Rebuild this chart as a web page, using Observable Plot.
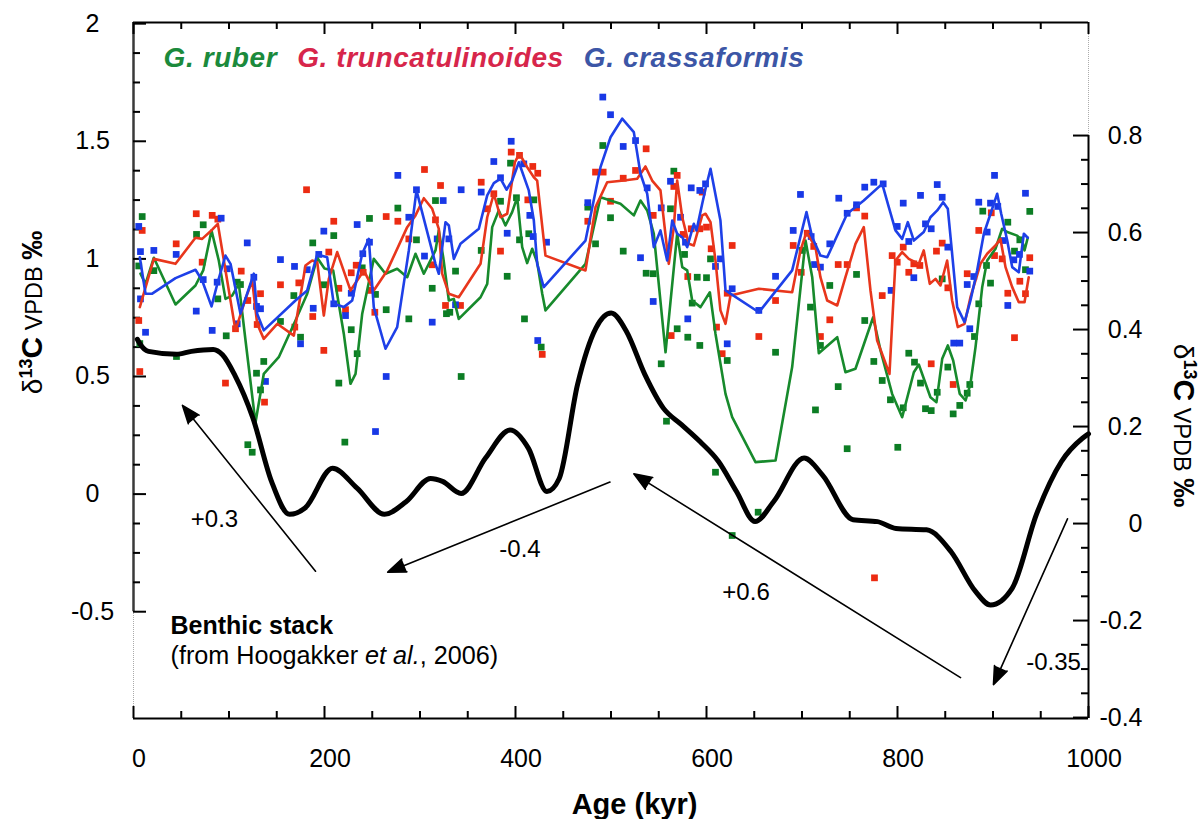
<!DOCTYPE html>
<html><head><meta charset="utf-8">
<script src="https://cdn.jsdelivr.net/npm/d3@7"></script>
<script src="https://cdn.jsdelivr.net/npm/@observablehq/plot@0.6"></script>
<style>body{margin:0;background:#fff;}</style>
</head><body><div id="chart"></div>
<script>
// ---- data: [age kyr, δ13C ‰] ----
const ruberPoints = [[9.1,1.18],[5.5,0.97],[21.3,0.95],[6.6,0.64],[45,0.585],[66,1.104],[73,1.145],[88.3,0.83],[97.1,0.673],[108.6,0.901],[112,0.891],[136.4,0.564],[128.8,0.514],[133,0.443],[119.7,0.21],[124.3,0.178],[187.7,1.068],[199.3,0.89],[167.9,0.844],[153.9,0.734],[174.9,0.667],[209.7,1.099],[228,0.699],[215,0.472],[234.2,0.597],[247.1,1.172],[239.5,0.962],[253.4,0.849],[264.6,0.784],[221.3,0.221],[276.8,1.216],[288.3,0.745],[296.3,1.081],[316.2,1.248],[312.8,0.875],[327.7,0.767],[331.2,0.773],[337.2,0.948],[343.1,0.5],[364.1,1.036],[394.8,1.407],[384.3,1.245],[401,1.26],[391.3,0.926],[404.2,1.081],[419.2,1.251],[413.9,1.107],[409.4,0.745],[426.9,0.625],[491.4,1.482],[475.7,1.22],[499.5,1.175],[483.8,1.064],[512.8,1.033],[536.8,0.939],[544.2,0.937],[565.8,1.373],[562.3,1.213],[577,1.019],[590.3,0.922],[585,0.812],[569.3,0.703],[580.4,0.667],[552.6,0.554],[593,0.632],[558.1,0.31],[604.2,1.0],[600,0.92],[621.7,0.568],[672.3,0.603],[700.2,1.036],[708.9,0.795],[719.3,0.632],[714.1,0.358],[729.1,0.887],[757.1,0.934],[737.9,0.457],[747.3,0.193],[765.7,0.738],[775.2,0.564],[784,0.483],[792.6,0.401],[609.4,0.093],[654.1,-0.077],[626.9,-0.176],[800.3,0.199],[806,0.367],[811.8,0.599],[817.8,0.561],[824.1,0.472],[829.3,0.363],[835.3,0.355],[841.6,0.433],[852.7,0.54],[846.8,0.915],[858.3,0.341],[865.2,0.377],[873,0.429],[875.7,0.466],[880.6,0.67],[885.1,0.809],[889.3,1.203],[893.2,0.972],[897.4,0.897],[915.5,1.156],[922.5,1.033],[928.1,1.081],[934,0.954],[938.5,1.202]];
const truncPoints = [[9.1,1.121],[5.5,0.738],[6.6,0.521],[44.7,1.064],[65.7,1.192],[82.4,1.185],[88.3,1.169],[71.9,0.986],[96.3,0.472],[112.8,0.948],[119.7,0.823],[133,0.852],[106.8,0.703],[129.5,0.721],[137.2,0.391],[181.2,1.294],[153.9,0.89],[204.5,1.029],[173.1,0.898],[187.7,0.755],[168.9,0.71],[199.3,0.611],[209.7,1.16],[215,0.875],[222,0.784],[233.2,0.973],[228,0.941],[240.5,0.943],[248.2,0.866],[252.7,0.773],[264.6,1.18],[276.8,1.16],[304.7,1.38],[288.3,1.085],[321.5,1.312],[316.2,1.166],[312.8,0.975],[326.7,0.802],[342.4,0.802],[364.1,1.326],[395.5,1.454],[404.2,1.44],[377.3,1.277],[370.4,1.213],[384.3,1.033],[418.1,1.393],[423.3,1.364],[412.9,1.251],[428,0.594],[483.8,1.369],[491.8,1.369],[512.8,1.343],[525.7,1.376],[536.8,1.468],[475.7,1.16],[499.5,1.245],[544.2,1.185],[569.3,1.355],[565.8,1.308],[575.6,1.104],[584,1.128],[593,1.128],[580.4,0.925],[563,0.674],[595.5,1.284],[600,1.135],[604.9,1.043],[626.9,1.057],[621.7,0.854],[610.5,0.71],[616.4,0.597],[654.8,0.67],[672.3,0.823],[690.8,1.057],[705.5,1.109],[699.2,0.943],[712.3,1.053],[719.3,0.67],[729.1,0.741],[737.9,0.976],[747.3,0.976],[757.1,1.217],[765.7,1.182],[784,0.844],[775.9,-0.356],[794.4,1.014],[799.7,0.986],[806,1.05],[817.1,0.979],[823.4,0.972],[811.8,0.943],[840.8,1.033],[846.8,1.067],[852.7,0.877],[835.3,0.554],[858.3,0.466],[873,0.937],[885.1,1.121],[898.2,1.196],[901.6,1.014],[909.6,1.0],[915.5,0.854],[928.1,0.905],[922.5,0.665],[934,0.852],[938.5,1.005]];
const crassPoints = [[5.5,1.138],[7.3,1.031],[21.3,1.036],[7.3,0.83],[12.6,0.688],[44.7,1.019],[91.8,1.173],[73,0.912],[65.7,0.778],[82.4,0.696],[87.6,0.901],[98.1,0.958],[119.1,1.068],[126,0.922],[128.8,0.798],[133,0.788],[108.6,0.724],[138.2,0.479],[199.3,1.118],[153.9,0.997],[168.6,0.968],[194,1.019],[181.9,0.954],[188.2,0.79],[174.9,0.639],[209.7,0.809],[222,0.759],[234.2,1.146],[240.1,1.022],[247.1,1.071],[228,0.854],[264.6,0.5],[253.4,0.266],[276.8,1.355],[296.3,1.294],[288.3,1.177],[324.3,1.248],[318,1.085],[330.2,1.085],[304.7,1.012],[312.8,0.731],[337.2,0.805],[343.1,1.294],[364.1,1.284],[377.3,1.414],[395.5,1.5],[384.3,1.345],[391.3,1.109],[408.7,1.404],[415,1.185],[418.5,1.095],[432.5,1.071],[423.3,0.653],[491.4,1.688],[499.5,1.613],[512.8,1.478],[525.7,1.503],[475.7,1.239],[530.9,1.005],[537.9,1.302],[544.2,0.819],[562.3,1.33],[584,1.302],[593,1.291],[552.6,1.217],[572.8,1.177],[578,1.071],[580.4,0.745],[599,1.319],[609.4,0.968],[614.6,1.0],[626.9,0.873],[621.7,0.639],[654.8,0.781],[672.3,0.926],[698.4,1.274],[690.8,1.121],[709.6,1.095],[713.1,0.976],[719.3,0.965],[729.1,1.064],[738.5,1.258],[747.3,1.194],[757.1,1.23],[765.7,1.305],[775.2,1.326],[785,1.319],[793.3,0.866],[806,1.237],[824.1,1.27],[841.6,1.316],[846.8,1.262],[835.3,1.128],[829.3,1.149],[799.7,1.138],[811.8,1.074],[817.1,0.92],[852.7,1.05],[858.9,0.642],[865.2,0.642],[875.7,0.703],[873,0.891],[879.9,0.925],[885.1,1.241],[893.9,1.114],[897.4,1.237],[901.6,1.355],[905,1.223],[910.7,1.078],[921.8,0.996],[927.7,1.019],[915.5,0.802],[934,1.279],[938.5,0.948]];

const ruberLine = [[7.3,0.937],[12.6,0.894],[21.3,1.005],[44,0.806],[64.9,0.887],[73,0.951],[81.7,1.121],[89.3,0.993],[96.3,0.83],[103.3,0.844],[110.3,0.894],[117.3,0.653],[127.7,0.303],[136.4,0.511],[152.1,0.582],[169.6,0.738],[181.9,0.852],[192.4,1.005],[200,0.959],[209.1,0.951],[220.2,0.682],[227.2,0.469],[232.5,0.511],[239.5,0.767],[251.6,1.0],[263.9,0.937],[276.1,0.958],[286.6,0.922],[295.3,1.022],[304,0.937],[316.2,1.036],[319.7,1.121],[324.3,1.007],[330.2,0.823],[335.4,0.83],[340.6,0.745],[363.4,0.837],[370.4,0.894],[375.6,1.135],[382.5,1.206],[389.5,1.142],[396.5,1.199],[401.8,1.262],[407,1.05],[412.2,0.982],[417.5,1.043],[422.7,0.986],[428,0.852],[431.4,0.781],[473.3,0.979],[489,1.262],[509.9,1.234],[523.9,1.185],[530.9,1.248],[537.9,1.206],[544.8,1.107],[557.1,0.603],[569.3,1.107],[574.6,0.965],[579.8,0.951],[585,0.823],[593.7,0.795],[603.5,0.858],[609.4,0.682],[619.9,0.426],[626.9,0.327],[651.3,0.136],[672.3,0.143],[689.7,0.54],[703.7,1.078],[710.7,0.922],[717.6,0.599],[736.9,0.667],[745.5,0.518],[756,0.533],[774.5,0.752],[782.2,0.611],[794.4,0.426],[804.9,0.327],[817.1,0.518],[822.3,0.551],[834.5,0.412],[840.8,0.391],[846.8,0.575],[852.7,0.632],[858.3,0.568],[865.2,0.426],[871.3,0.398],[876.4,0.469],[881.7,0.625],[888.7,0.88],[893.9,0.993],[902.6,1.043],[909.6,1.128],[914.9,1.114],[925.3,1.099],[930.6,1.078],[933,1.036],[936.4,1.09]];
const truncLine = [[6.6,0.795],[21.3,1.0],[44,0.979],[64.9,1.09],[71.9,1.085],[82.4,1.124],[88.3,1.149],[98.1,0.908],[106.8,0.696],[117.3,0.83],[124.3,0.908],[129.5,0.724],[136.4,0.66],[150.5,0.724],[167.9,0.674],[180.1,0.972],[187.1,0.993],[192.4,0.986],[199.3,0.759],[204.5,0.915],[213.3,1.029],[227.2,0.866],[241.2,0.951],[251.6,0.866],[265.7,0.951],[286.6,1.135],[295.3,1.185],[304,1.258],[312.8,1.213],[319.7,1.128],[323.2,0.937],[330.2,0.852],[340.6,0.837],[363.4,0.979],[370.4,1.177],[377.3,1.277],[384.3,1.177],[391.3,1.192],[399.3,1.411],[404.2,1.447],[412.2,1.39],[419.2,1.347],[422.7,1.333],[431.4,1.014],[473.3,0.951],[483.8,1.22],[496,1.326],[513.4,1.333],[527.4,1.341],[536.1,1.393],[543.1,1.333],[551.8,1.291],[560.5,0.979],[565.8,1.135],[569.3,1.333],[574.6,1.177],[581.5,1.064],[586.7,1.057],[595.5,1.185],[599,1.192],[604.2,1.156],[609.4,0.993],[614.6,0.781],[619.9,0.724],[625.1,0.844],[654.8,0.873],[689.7,0.858],[698.4,1.036],[704.7,1.114],[714.1,1.05],[719.3,0.922],[726.4,0.823],[736.9,0.802],[745.5,0.922],[756,1.064],[764.7,1.135],[771.7,0.866],[778.7,0.653],[791.6,0.511],[797.9,0.993],[804.9,1.029],[811.8,1.0],[822.3,0.979],[827.5,1.036],[833.8,0.894],[839.8,0.915],[845,0.887],[852,0.993],[857.2,0.823],[863.1,0.71],[870.2,0.724],[876.4,0.837],[886.9,0.979],[893.9,1.022],[902.6,1.057],[907.8,1.085],[913.1,0.965],[920.1,0.88],[927,0.816],[933,0.816],[937.4,0.922]];
const crassLine = [[6.6,1.007],[12.6,0.852],[19.6,0.852],[44,0.918],[64.9,0.954],[71.9,0.908],[81.7,0.798],[88.7,0.908],[96.3,1.014],[101.6,0.979],[112,0.767],[126,0.937],[129.5,0.767],[136.4,0.696],[169.6,0.823],[181.9,0.866],[192.4,1.019],[202.8,1.007],[209.7,0.809],[220.2,0.795],[229,0.823],[239.5,1.022],[246.4,1.085],[251.6,0.795],[263.9,0.618],[276.1,0.71],[288.3,1.036],[296.3,1.291],[316.2,0.979],[319.7,0.937],[326.7,1.156],[330.2,1.142],[335.4,1.0],[342.4,1.064],[361.6,1.128],[370.4,1.27],[377.3,1.322],[384.3,1.341],[390.6,1.294],[396.5,1.333],[403.5,1.411],[413.9,1.291],[419.2,1.163],[422.7,0.979],[429.6,0.88],[473.3,1.078],[489,1.39],[499.5,1.517],[511.7,1.596],[523.9,1.539],[530.9,1.362],[537.9,1.277],[544.8,1.05],[551.8,1.121],[558.8,0.993],[564.1,1.163],[569.3,1.107],[574.6,1.092],[579.8,1.05],[586.7,1.149],[589.5,1.121],[595.5,1.234],[599,1.298],[604.2,1.383],[614.6,1.163],[619.9,0.866],[654.8,0.773],[689.7,0.951],[704.7,1.199],[710.7,1.092],[719.3,1.014],[726.4,1.007],[747.3,1.192],[764.7,1.248],[784,1.319],[790.9,1.22],[797.9,1.121],[804.9,1.085],[810.8,1.156],[817.1,1.078],[827.5,1.114],[834.5,1.177],[841.6,1.206],[847.8,1.241],[852.7,1.213],[857.2,1.022],[862.5,0.795],[870.2,0.731],[876.4,0.823],[883.4,0.951],[890.4,1.107],[897.4,1.192],[904.4,1.277],[908.6,1.192],[914.9,1.078],[920.1,0.965],[927,0.943],[932.3,1.107],[936.4,1.09]];

// benthic stack, right-axis units
const benthicStack = [[4,0.38],[6.3,0.372],[15.7,0.355],[45,0.349],[60.7,0.355],[83.5,0.359],[93.2,0.348],[105.8,0.307],[125.1,0.217],[144.5,0.087],[163.4,0.019],[179.6,0.032],[208.4,0.114],[234.1,0.073],[262.8,0.019],[285.4,0.045],[311,0.093],[323.6,0.087],[343.1,0.062],[368.6,0.135],[394.4,0.193],[413.6,0.155],[432.9,0.066],[445.8,0.093],[465,0.287],[484.2,0.403],[500.2,0.434],[516.2,0.396],[535.5,0.307],[554.8,0.238],[573.8,0.204],[593.2,0.169],[612.6,0.128],[631.4,0.066],[650.9,0.004],[670.2,0.045],[702.2,0.135],[721.5,0.100],[753.5,0.008],[779,0.004],[798.4,-0.010],[830.4,-0.013],[856.1,-0.058],[881.7,-0.140],[897.4,-0.168],[920.2,-0.133],[945.5,0.019],[971.7,0.128],[993.7,0.176],[1000,0.185]];

const xTickLabels = [0,200,400,600,800,1000];
const xTicks = d3.range(0, 1001, 50);
const yLeftLabels = [-0.5,0,0.5,1,1.5,2];
const yLeftTicks = d3.range(0, 21).map(i => -0.5 + i*0.125);
const yRightLabels = [-0.4,-0.2,0,0.2,0.4,0.6,0.8];
const yRightTicks = d3.range(0, 25).map(i => -0.4 + i*0.05);

const arrowNotes = [
  {x1:190.6, y1:-0.328, x2:51.3, y2:0.377},
  {x1:498.9, y1:0.051, x2:266.2, y2:-0.332},
  {x1:866, y1:-0.780, x2:523.9, y2:0.086},
  {x1:978, y1:-0.105, x2:900.5, y2:-0.810}
];
const changeLabels = [
  {x:84.8, y:-0.108, text:"+0.3"},
  {x:404.7, y:-0.236, text:"-0.4"},
  {x:641.4, y:-0.418, text:"+0.6"},
  {x:963.4, y:-0.716, text:"-0.35"}
];

const LEFT_TITLE = "δ13C VPDB ‰";
const RIGHT_TITLE = "δ13C VPDB ‰ ";
const LEGEND = "G. ruber G. truncatulinoides G. crassaformis";
const SOURCE = "(from Hoogakker et al., 2006)";

// ---- scales ----
const yBottom = -0.954, yTop = 2.005;
const toLeft = r => -0.95 + (r + 0.4) * 2.062;
const pxY = (yTop - yBottom) / 696;
const pxX = 1000 / 955;
const isMul = (v, s) => Math.abs(v / s - Math.round(v / s)) < 1e-6;

const GREEN = "#0c7d24", RED = "#ec2b12", BLUE = "#1838e6";
const GREEN_L = "#178a2c", RED_L = "#e8361c", BLUE_L = "#1e40e8";

const xy = {x: d => d[0], y: d => d[1]};

const svg = Plot.plot({
  width: 1203, height: 819,
  marginLeft: 133, marginRight: 115, marginTop: 22, marginBottom: 101,
  x: {domain: [0, 1000], axis: null},
  y: {domain: [yBottom, yTop], axis: null},
  style: {fontFamily: "'Liberation Sans', Arial, Helvetica, sans-serif", fontSize: "25px", background: "#fff", color: "#000", overflow: "visible"},
  marks: [
    // frame / axis lines
    Plot.ruleY([{y: yTop}], {y: "y", stroke: "#000", strokeWidth: 2}),
    Plot.ruleY([{y: yBottom}], {y: "y", stroke: "#000", strokeWidth: 2}),
    Plot.ruleX([{x: 0, y1: -0.5, y2: yTop}], {x: "x", y1: "y1", y2: "y2", stroke: "#3a3a3a", strokeWidth: 2.5}),
    Plot.ruleX([{x: 0, y1: yBottom, y2: -0.5}], {x: "x", y1: "y1", y2: "y2", stroke: "#aaa", strokeWidth: 1, strokeDasharray: "1,1"}),
    Plot.ruleX([{x: 1000, y1: yBottom, y2: toLeft(0.8)}], {x: "x", y1: "y1", y2: "y2", stroke: "#000", strokeWidth: 2}),
    Plot.ruleX([{x: 1000, y1: toLeft(0.8), y2: yTop}], {x: "x", y1: "y1", y2: "y2", stroke: "#aaa", strokeWidth: 1, strokeDasharray: "1,1"}),
    // ticks (inward)
    Plot.ruleX(xTicks, {x: d => d, y1: yBottom, y2: d => yBottom + (isMul(d, 200) ? 12 : 7) * pxY, stroke: "#000", strokeWidth: 2}),
    Plot.ruleX(xTicks, {x: d => d, y1: yTop, y2: d => yTop - (isMul(d, 200) ? 12 : 7) * pxY, stroke: "#000", strokeWidth: 2}),
    Plot.ruleY(yLeftTicks, {y: d => d, x1: 0, x2: d => (isMul(d, 0.5) ? 13 : 7) * pxX, stroke: "#000", strokeWidth: 2}),
    Plot.ruleY(yRightTicks, {y: d => toLeft(d), x1: 1000, x2: d => 1000 - (isMul(d, 0.2) ? 15 : 7) * pxX, stroke: "#000", strokeWidth: 2}),
    // tick labels
    Plot.text(xTickLabels, {x: d => d, text: d => String(d), frameAnchor: "bottom", lineAnchor: "bottom", dy: 48, dx: 5.5, fontSize: 25}),
    Plot.text(yLeftLabels, {y: d => d, text: d => String(d), frameAnchor: "left", textAnchor: "middle", dx: -41, fontSize: 25}),
    Plot.text(yRightLabels, {y: d => toLeft(d), text: d => String(+d.toFixed(1)), frameAnchor: "right", textAnchor: "end", dx: 54, fontSize: 25}),
    // foraminifera data
    Plot.dot(ruberPoints, {...xy, symbol: "square", r: 3.8, fill: GREEN, stroke: "none"}),
    Plot.dot(truncPoints, {...xy, symbol: "square", r: 3.8, fill: RED, stroke: "none"}),
    Plot.dot(crassPoints, {...xy, symbol: "square", r: 3.8, fill: BLUE, stroke: "none"}),
    Plot.line(ruberLine, {...xy, stroke: GREEN_L, strokeWidth: 2.6}),
    Plot.line(truncLine, {...xy, stroke: RED_L, strokeWidth: 2.6}),
    Plot.line(crassLine, {...xy, stroke: BLUE_L, strokeWidth: 2.6}),
    // benthic stack (right axis)
    Plot.line(benthicStack, {x: d => d[0], y: d => toLeft(d[1]), stroke: "#000", strokeWidth: 5, curve: "monotone-x"}),
    // annotations
    Plot.arrow(arrowNotes, {x1: "x1", y1: "y1", x2: "x2", y2: "y2", stroke: "#000", fill: "#000", strokeWidth: 1.6, headLength: 18, headAngle: 42}),
    Plot.text(changeLabels, {x: "x", y: "y", text: "text", fontSize: 24}),
    Plot.text(["Benthic stack"], {frameAnchor: "bottom-left", lineAnchor: "bottom", dx: 37, dy: -85, fontSize: 25, fontWeight: "bold"}),
    Plot.text([SOURCE], {frameAnchor: "bottom-left", lineAnchor: "bottom", dx: 37, dy: -55, fontSize: 25.2}),
    Plot.text([LEGEND], {frameAnchor: "top-left", lineAnchor: "bottom", dx: 30, dy: 44.7, fontSize: 28, fontWeight: "bold", fontStyle: "italic"}),
    Plot.text(["Age (kyr)"], {frameAnchor: "bottom", lineAnchor: "bottom", dx: 23.5, dy: 95, fontSize: 29, fontWeight: "bold"}),
    Plot.text([LEFT_TITLE], {frameAnchor: "left", textAnchor: "middle", dx: -99, dy: -58, rotate: -90, fontSize: 24}),
    Plot.text([RIGHT_TITLE], {frameAnchor: "right", textAnchor: "middle", dx: 93, dy: 55, rotate: 90, fontSize: 24})
  ]
});
document.getElementById("chart").append(svg);

// rich text (mixed styles) inside Plot's text elements
function rich(match, parts) {
  d3.select(svg).selectAll("text").filter(function () { return this.textContent === match; }).each(function () {
    const t = d3.select(this);
    t.text(null);
    for (const p of parts) {
      const s = t.append("tspan").text(p.t);
      if (p.size) s.attr("font-size", p.size);
      if (p.weight) s.attr("font-weight", p.weight);
      if (p.style) s.attr("font-style", p.style);
      if (p.fill) s.attr("fill", p.fill);
      if (p.dy) s.attr("dy", p.dy);
      if (p.dx) s.attr("dx", p.dx);
      if (p.ls) s.attr("letter-spacing", p.ls);
    }
  });
}
const titleParts = [
  {t: "δ", size: 28, weight: "normal"},
  {t: "13", size: 18, weight: "bold", dy: -10},
  {t: "C", size: 30, weight: "bold", dy: 10},
  {t: " VPDB ", size: 23.5, weight: "normal"},
  {t: "‰", size: 29, weight: "bold"}
];
rich(LEFT_TITLE, titleParts);
rich(RIGHT_TITLE, titleParts);
rich(LEGEND, [
  {t: "G. ruber", fill: "#1b8a3c", ls: 0.6},
  {t: "G. truncatulinoides", fill: "#d7264b", dx: 20, ls: 0.6},
  {t: "G. crassaformis", fill: "#3c56a6", dx: 20, ls: 0.6}
]);
rich(SOURCE, [
  {t: "(from Hoogakker "},
  {t: "et al.", style: "italic"},
  {t: ", 2006)"}
]);
</script>
</body></html>
